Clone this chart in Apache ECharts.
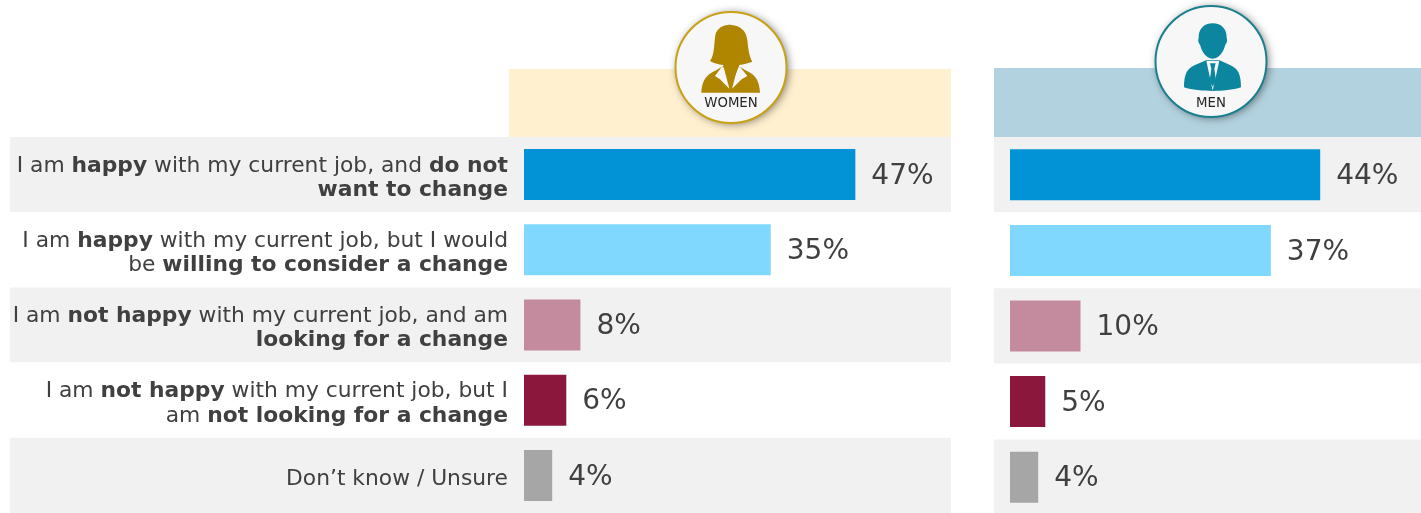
<!DOCTYPE html>
<html>
<head>
<meta charset="utf-8">
<style>html,body{margin:0;padding:0;background:#fff}#chart{width:1421px;height:513px}</style>
<script src="https://cdn.jsdelivr.net/npm/echarts@6/dist/echarts.min.js"></script>
</head>
<body>
<div id="chart"></div>
<script>
// Job satisfaction survey answers, split by gender (percent of respondents)
const answers = [
  'I am {b|happy} with my current job, and {b|do not}\n{b|want to change}',
  'I am {b|happy} with my current job, but I would\nbe {b|willing to consider a change}',
  'I am {b|not happy} with my current job, and am\n{b|looking for a change}',
  'I am {b|not happy} with my current job, but I\nam {b|not looking for a change}',
  'Don\u2019t know / Unsure'
];
const womenValues = [47, 35, 8, 6, 4];
const menValues = [44, 37, 10, 5, 4];
const barColors = ['#0293D6', '#80D8FF', '#C48A9E', '#8B173D', '#A6A6A6'];
const groupNames = ['WOMEN', 'MEN'];

const FONT = '"DejaVu Sans", Verdana, sans-serif';
const INK = '#404040';
const PX_PER_PCT = 7.05;

function bars(values, index) {
  return {
    type: 'bar',
    xAxisIndex: index,
    yAxisIndex: index,
    barWidth: 51,
    silent: true,
    data: values.map((v, i) => ({ value: v, itemStyle: { color: barColors[i] } })),
    label: {
      show: true,
      position: 'right',
      distance: 16,
      offset: [0, 2],
      formatter: '{c}%',
      fontFamily: FONT,
      fontSize: 28,
      color: INK
    }
  };
}

function valueAxis(gridIndex, min, max) {
  return { type: 'value', gridIndex, min, max, show: false, splitLine: { show: false } };
}

function bandAxis(gridIndex, labels) {
  return {
    type: 'category',
    gridIndex,
    inverse: true,
    data: answers,
    axisLine: { show: false },
    axisTick: { show: false },
    splitLine: { show: false },
    splitArea: { show: true, areaStyle: { color: ['#F1F1F1', '#FFFFFF'] } },
    axisLabel: labels ? {
      show: true,
      interval: 0,
      // Labels sit inside the band, right-aligned just before the bars start
      margin: -498,
      align: 'right',
      padding: [7, 0, 0, 0],
      fontFamily: FONT,
      fontSize: 21.8,
      lineHeight: 24.5,
      color: INK,
      rich: { b: { fontFamily: FONT, fontSize: 21.8, lineHeight: 24.5, fontWeight: 'bold', color: INK } }
    } : { show: false }
  };
}

// Silhouettes, drawn on a 3x canvas and scaled down into the badges
const silhouettes = {
  womanBody: 'M124 278C126 245 135 225 170 210L190 197L235 197L255 210C290 225 298 245 300 278Z',
  womanCollarL: 'M187 198L165 228L180 238L208 266L192 205Z',
  womanCollarR: 'M238 198L262 228L245 238L216 266L232 205Z',
  womanHead: 'M150 183C164 165 162 130 166 105C172 82 195 72 215 75C240 78 258 90 262 120C265 150 268 170 277 185C265 190 250 192 238 195L212 262L190 195C175 193 160 190 150 183Z',
  manBody: 'M132 232C132 195 140 175 165 165L200 150L237 150L270 165C295 175 303 195 303 232C280 240 245 243 218 243C190 243 155 240 132 232Z',
  manShirt: 'M199 152L238 152L218 242Z',
  manTie: 'M210 160L227 160L223 176L228 212L218 230L209 212L214 176Z',
  manHead: 'M218 40C245 40 261 58 260 85C263 90 261 100 256 104C252 120 240 145 218 146C196 145 184 120 180 104C175 100 173 90 176 85C175 58 191 40 218 40Z'
};
Object.keys(silhouettes).forEach(name => {
  echarts.graphic.registerShape(name, echarts.graphic.extendPath(silhouettes[name]));
});

function shape(type, fill, x, y) {
  return { type, x, y, scaleX: 1 / 3, scaleY: 1 / 3, shape: {}, style: { fill }, silent: true };
}

// The drop shadow goes on a plain disc so the ring's own shadow stays off the face
function badge(cx, cy, stroke) {
  return [
    {
      type: 'circle',
      shape: { cx, cy, r: 55.5 },
      style: { fill: '#F7F7F7', shadowBlur: 9, shadowColor: 'rgba(0,0,0,0.5)', shadowOffsetX: 2, shadowOffsetY: 1 },
      silent: true
    },
    {
      type: 'circle',
      shape: { cx, cy, r: 55.5 },
      style: { fill: '#F7F7F7', stroke, lineWidth: 2 },
      silent: true
    }
  ];
}

function caption(text, cx, y) {
  return {
    type: 'text',
    x: cx, y,
    style: { text, font: '13.3px ' + FONT, fill: '#262626', textAlign: 'center', textVerticalAlign: 'middle' },
    silent: true
  };
}

const GOLD = '#B08500';
const TEAL = '#0B869E';
const PAPER = '#F7F7F7';

const chart = echarts.init(document.getElementById('chart'), null, { renderer: 'canvas' });
chart.setOption({
  animation: false,
  backgroundColor: '#FFFFFF',
  grid: [
    { left: 10, top: 137, width: 941, height: 376, outerBoundsMode: 'none' },
    { left: 994, top: 137, width: 427, height: 378, outerBoundsMode: 'none' }
  ],
  // Each x range is chosen so 0% sits at the bar start and one percent spans PX_PER_PCT
  xAxis: [
    valueAxis(0, -514 / PX_PER_PCT, 427 / PX_PER_PCT),
    valueAxis(1, -16 / PX_PER_PCT, 411 / PX_PER_PCT)
  ],
  yAxis: [bandAxis(0, true), bandAxis(1, false)],
  series: [bars(womenValues, 0), bars(menValues, 1)],
  graphic: { elements: [
    { type: 'rect', shape: { x: 509, y: 69, width: 442, height: 68 }, style: { fill: '#FFF0CF' }, silent: true },
    { type: 'rect', shape: { x: 994, y: 68, width: 427, height: 69 }, style: { fill: '#B3D2DF' }, silent: true },
    ...badge(731, 67.5, '#C9A115'),
    shape('womanBody', GOLD, 660, 0),
    shape('womanCollarL', PAPER, 660, 0),
    shape('womanCollarR', PAPER, 660, 0),
    shape('womanHead', GOLD, 660, 0),
    caption(groupNames[0], 731, 103.5),
    ...badge(1211, 61.5, '#1A7F8F'),
    shape('manBody', TEAL, 1140, 10),
    shape('manShirt', PAPER, 1140, 10),
    shape('manTie', TEAL, 1140, 10),
    shape('manHead', TEAL, 1140, 10),
    caption(groupNames[1], 1211, 103.5)
  ] }
});
</script>
</body>
</html>
